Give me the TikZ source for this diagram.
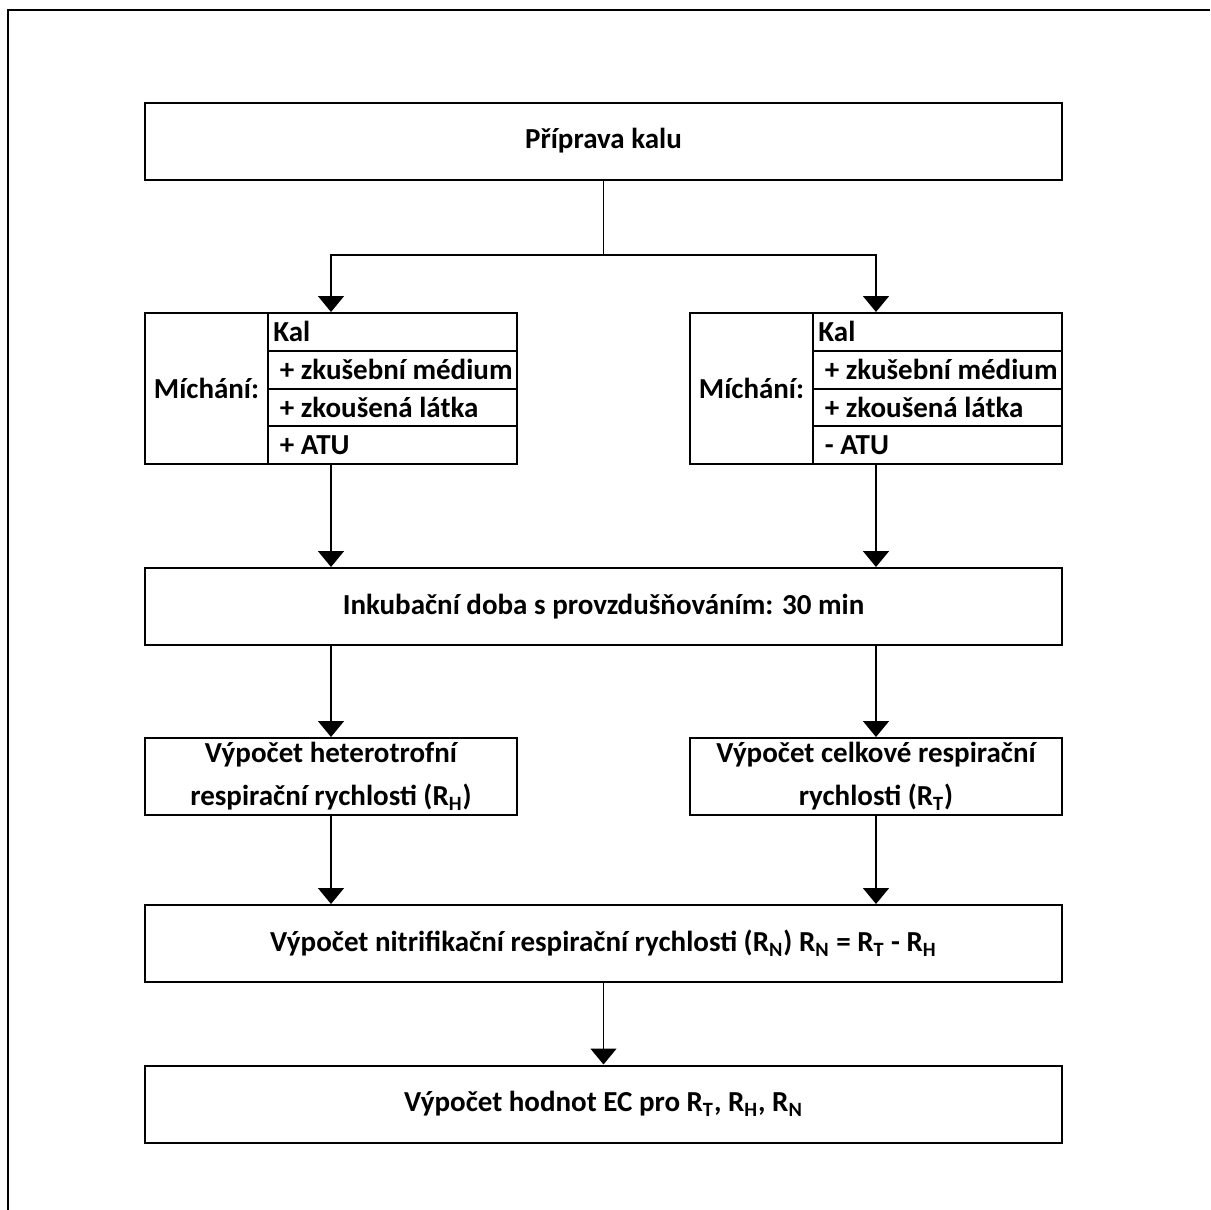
\documentclass[tikz,border=0pt]{standalone}
\usepackage{fontspec}
\setmainfont{Carlito}
\usetikzlibrary{arrows.meta}
\begin{document}
\begin{tikzpicture}[x=0.5pt, y=-0.5pt,
    every node/.style={font=\fontsize{14.5}{21.5}\selectfont\bfseries},
    wide/.style={draw, line width=1pt, minimum width=458.5pt, minimum height=38.5pt, inner sep=0pt},
    half/.style={draw, line width=1pt, minimum width=186pt, minimum height=38.5pt, inner sep=0pt, align=center},
    mixbox/.style={draw, line width=1pt, minimum width=186pt, minimum height=75.5pt, inner sep=0pt},
    arr/.style={line width=0.8pt, -{Triangle[width=13pt, length=8pt]}}]
    \useasboundingbox (0,0) rectangle (1210,1210);
    % ramecek
    \draw[line width=1pt] (8,1210) -- (8,10) -- (1210,10);

    % Priprava
    \node[wide] (prep) at (603.5,141) {Příprava kalu};
    \coordinate (split) at (603.5,255);

    % Michani
    \foreach \nm/\xl/\last in {mixL/145/+ ATU, mixR/690/- ATU} {
        \node[mixbox] (\nm) at (\xl+186,388.5) {};
        \node (\nm-lab) at (\xl+61.5,388.5) {Míchání:};
        \draw[line width=1pt] (\xl+123,313) -- (\xl+123,464);
        \foreach \y in {350.75, 388.5, 426.25}
            \draw[line width=1pt] (\xl+123,\y) -- (\xl+372,\y);
        \foreach \y/\val in {
            331/Kal,
            369/\ + zkušební médium,
            407/\ + zkoušená látka,
            445/\ \last
            } {
            \node[anchor=west, inner sep=0pt] (\nm-\y) at (\xl+128,\y) {\val};
        }
    }

    % Inkubace
    \node[wide] (incub) at (603.5,606.5) {Inkubační doba s provzdušňováním: 30 min};

    % Vypocty
    \node[half] (calcL) at (331,776.5) {Výpočet heterotrofní\\respirační rychlosti (R\textsubscript{H})};
    \node[half] (calcR) at (876,776.5) {Výpočet celkové respirační\\rychlosti (R\textsubscript{T})};
    \node[wide] (nitri) at (603.5,943.5) {Výpočet nitrifikační respirační rychlosti (R\textsubscript{N}) R\textsubscript{N} = R\textsubscript{T} - R\textsubscript{H}};
    \node[wide] (ec) at (603.5,1104) {Výpočet hodnot EC pro R\textsubscript{T}, R\textsubscript{H}, R\textsubscript{N}};

    % sipky
    \draw[line width=0.8pt] (prep.south) -- (split);
    \draw[arr] (split) -| (mixL.north);
    \draw[arr] (split) -| (mixR.north);
    \draw[arr] (mixL.south) -- (mixL.south |- incub.north);
    \draw[arr] (mixR.south) -- (mixR.south |- incub.north);
    \draw[arr] (calcL.north |- incub.south) -- (calcL.north);
    \draw[arr] (calcR.north |- incub.south) -- (calcR.north);
    \draw[arr] (calcL.south) -- (calcL.south |- nitri.north);
    \draw[arr] (calcR.south) -- (calcR.south |- nitri.north);
    \draw[arr] (nitri.south) -- (ec.north);
\end{tikzpicture}
\end{document}
